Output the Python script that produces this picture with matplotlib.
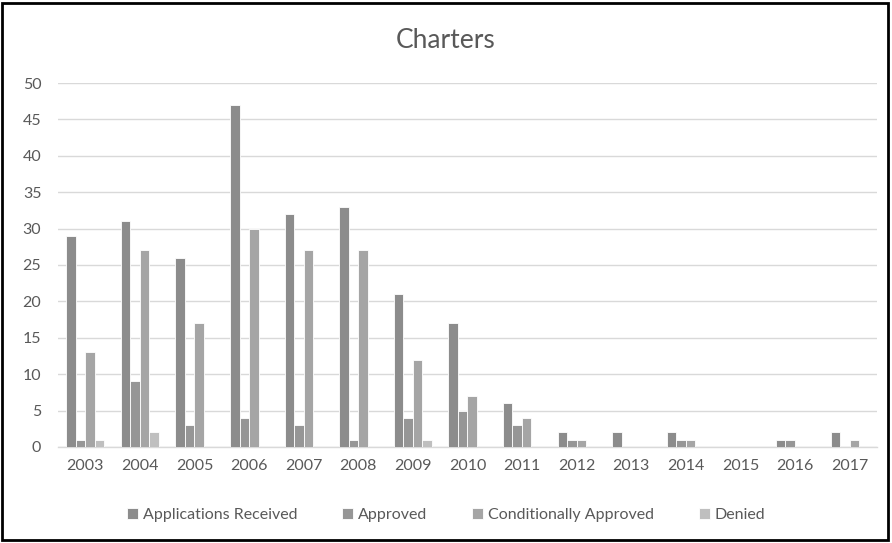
import numpy as np
import matplotlib
matplotlib.use("Agg")
import matplotlib.pyplot as plt
from matplotlib.patches import Rectangle

plt.rcParams["font.family"] = ["Lato", "DejaVu Sans"]

years = ["2003", "2004", "2005", "2006", "2007", "2008", "2009", "2010",
         "2011", "2012", "2013", "2014", "2015", "2016", "2017"]
received = [29, 31, 26, 47, 32, 33, 21, 17, 6, 2, 2, 2, 0, 1, 2]
approved = [1, 9, 3, 4, 3, 1, 4, 5, 3, 1, 0, 1, 0, 1, 0]
conditional = [13, 27, 17, 30, 27, 27, 12, 7, 4, 1, 0, 1, 0, 0, 1]
denied = [1, 2, 0, 0, 0, 0, 1, 0, 0, 0, 0, 0, 0, 0, 0]

series = [
    ("Applications Received", received, "#8c8c8c"),
    ("Approved", approved, "#969696"),
    ("Conditionally Approved", conditional, "#a5a5a5"),
    ("Denied", denied, "#bfbfbf"),
]

text_color = "#595959"
fig = plt.figure(figsize=(8.92, 5.43), dpi=100)
ax = fig.add_axes([0.065, 0.177, 0.918, 0.670])

x = np.arange(len(years))
w = 0.174
for i, (name, vals, col) in enumerate(series):
    ax.bar(x + (i - 1.5) * w, vals, width=w, color=col, edgecolor="white",
           linewidth=0.6, label=name, zorder=3)

ax.set_xlim(-0.5, len(years) - 0.5)
ax.set_ylim(0, 50)
ax.set_yticks(range(0, 51, 5))
ax.set_xticks(x)
ax.set_xticklabels(years)
ax.yaxis.grid(True, color="#d9d9d9", linewidth=1, zorder=0)
ax.tick_params(axis="both", length=0, colors=text_color, labelsize=11.5)
ax.tick_params(axis="x", pad=9)
ax.tick_params(axis="y", pad=12)
for s in ["top", "right", "left"]:
    ax.spines[s].set_visible(False)
ax.spines["bottom"].set_color("#d9d9d9")
ax.spines["bottom"].set_linewidth(1)

fig.text(0.5, 0.925, "Charters", ha="center", va="center", fontsize=19,
         color=text_color)

leg = fig.legend(loc="center", bbox_to_anchor=(0.5, 0.052), ncol=4,
                 frameon=False, fontsize=11.5, handlelength=0.7, handleheight=0.7,
                 handletextpad=0.3, columnspacing=2.8)
for t in leg.get_texts():
    t.set_color(text_color)

fig.patches.append(Rectangle((0.002, 0.005), 0.994, 0.99, transform=fig.transFigure,
                             fill=False, edgecolor="black", linewidth=2))

fig.savefig("out.png", dpi=100)
